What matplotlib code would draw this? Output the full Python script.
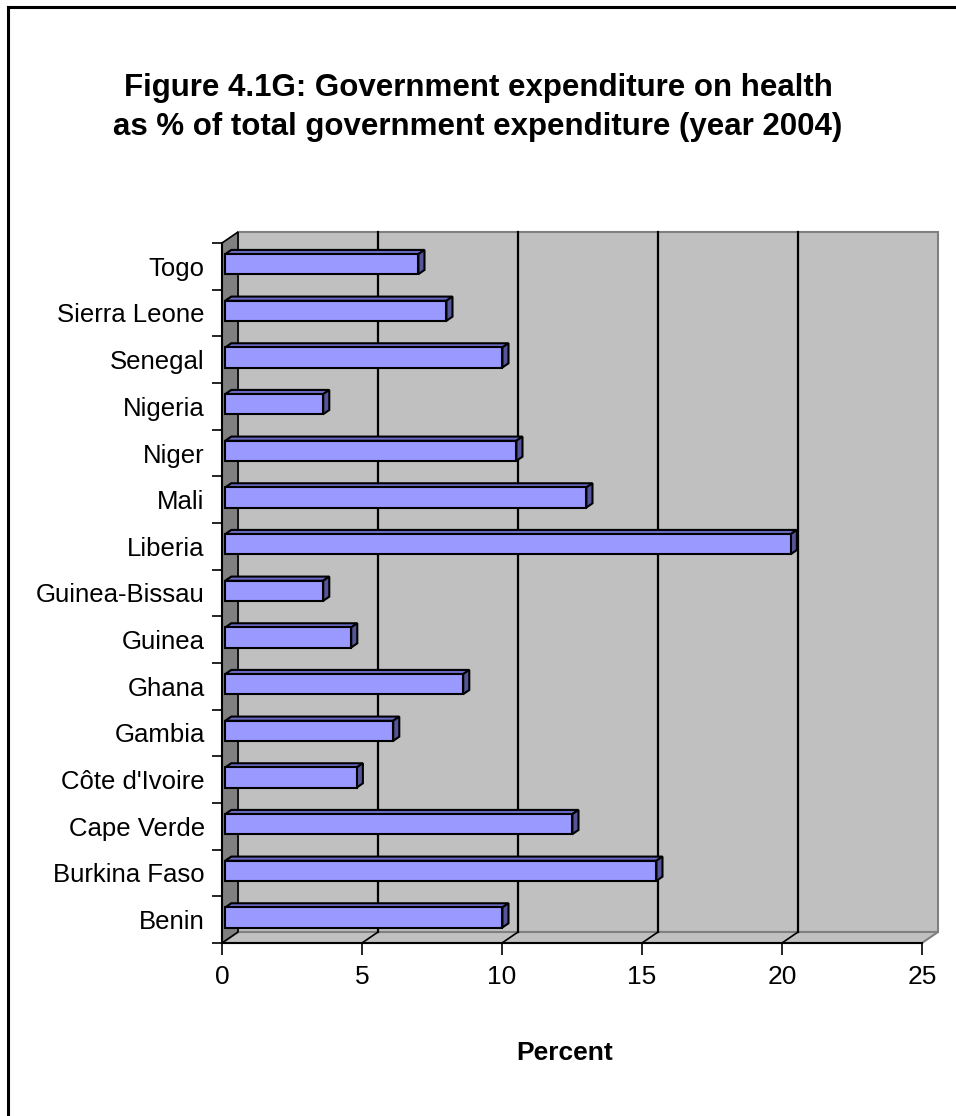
import numpy as np
import matplotlib
matplotlib.use("Agg")
from matplotlib import pyplot as plt
from matplotlib.patches import Polygon
from matplotlib.lines import Line2D

plt.rcParams['font.family'] = ['Liberation Sans', 'DejaVu Sans']

# health spending, % of total government expenditure, 2004 (bottom to top)
countries = ['Benin', 'Burkina Faso', 'Cape Verde', "Côte d'Ivoire", 'Gambia',
             'Ghana', 'Guinea', 'Guinea-Bissau', 'Liberia', 'Mali', 'Niger',
             'Nigeria', 'Senegal', 'Sierra Leone', 'Togo']
values = [9.9, 15.4, 12.4, 4.7, 6.0, 8.5, 4.5, 3.5, 20.2, 12.9, 10.4,
          3.5, 9.9, 7.9, 6.9]
xticks = [0, 5, 10, 15, 20, 25]
title1 = "Figure 4.1G: Government expenditure on health"
title2 = "as % of total government expenditure (year 2004)"

W, H = 956, 1116
fig = plt.figure(figsize=(W/100., H/100.), dpi=100)
fig.patch.set_facecolor('white')

# front plane of the fake 3d box
ax = fig.add_axes([222./W, (H-943.)/H, 700./W, 700./H])
n = len(countries)
xmax = 25
ax.set_xlim(0, xmax)
ax.set_ylim(-0.5, n-0.5)
ax.set_facecolor('none')
for s in ax.spines.values():
    s.set_visible(False)

# depth offsets in data units (approx 16px right, 11px up)
DX = 16./28
DY = 11./(700./n)
y0, y1 = -0.5, n-0.5

# back wall
ax.add_patch(Polygon([(DX, y0+DY), (xmax+DX, y0+DY), (xmax+DX, y1+DY), (DX, y1+DY)],
                     closed=True, fc='#C0C0C0', ec='#808080', lw=1.5,
                     clip_on=False, zorder=1))
# floor
ax.add_patch(Polygon([(0, y0), (xmax, y0), (xmax+DX, y0+DY), (DX, y0+DY)],
                     closed=True, fc='#C0C0C0', ec='#808080', lw=1.5,
                     clip_on=False, zorder=1))
# gridlines on the back wall and floor
for t in xticks[1:-1]:
    ax.plot([t+DX, t+DX], [y0+DY, y1+DY], color='black', lw=1.6,
            clip_on=False, zorder=2)
    ax.plot([t, t+DX], [y0, y0+DY], color='black', lw=1.2,
            clip_on=False, zorder=2)
# left wall
ax.add_patch(Polygon([(0, y0), (DX, y0+DY), (DX, y1+DY), (0, y1)],
                     closed=True, fc='#808080', ec='black', lw=1.2,
                     clip_on=False, zorder=2))
ax.plot([0, xmax], [y0, y0], color='black', lw=1.5, clip_on=False, zorder=2)
ax.plot([0, 0], [y0, y1], color='black', lw=1.5, clip_on=False, zorder=2)

# bars: front, top and side faces
h = 0.43
z0, z1 = 0.2, 0.58
ox0, oy0 = z0*DX, z0*DY
ox1, oy1 = z1*DX, z1*DY
for i, v in enumerate(values):
    lo, hi = i - h/2, i + h/2
    top = [(ox0, hi+oy0), (v+ox0, hi+oy0), (v+ox1, hi+oy1), (ox1, hi+oy1)]
    side = [(v+ox0, lo+oy0), (v+ox1, lo+oy1), (v+ox1, hi+oy1), (v+ox0, hi+oy0)]
    front = [(ox0, lo+oy0), (v+ox0, lo+oy0), (v+ox0, hi+oy0), (ox0, hi+oy0)]
    ax.add_patch(Polygon(top, closed=True, fc='#6B6BC6', ec='black', lw=1.5,
                         joinstyle='miter', zorder=3, clip_on=False))
    ax.add_patch(Polygon(side, closed=True, fc='#55559A', ec='black', lw=1.5,
                         joinstyle='miter', zorder=3, clip_on=False))
    ax.add_patch(Polygon(front, closed=True, fc='#9999FF', ec='black', lw=1.5,
                         joinstyle='miter', zorder=4, clip_on=False))

# category ticks sit between bars, labels on the bar centres
ax.set_yticks(np.arange(-0.5, n, 1.0))
ax.set_yticklabels([])
ax.set_yticks(np.arange(n), minor=True)
ax.set_yticklabels(countries, minor=True, fontsize=18.5)
ax.tick_params(axis='y', which='major', direction='out', length=7.5, width=1.2)
ax.tick_params(axis='y', which='minor', length=0, pad=12.5)

ax.set_xticks(xticks)
ax.set_xticklabels([str(t) for t in xticks], fontsize=19)
ax.tick_params(axis='x', direction='out', length=8.5, width=1.2, pad=7)

ax.text((565.-222)/700, -(1053.-943)/700, 'Percent', transform=ax.transAxes,
        ha='center', va='center', fontsize=19, fontweight='bold')

fig.text(0.5, 1-88./H, title1, ha='center', va='center', fontsize=22.5,
         fontweight='bold')
fig.text(0.5, 1-127./H, title2, ha='center', va='center', fontsize=22.5,
         fontweight='bold')

# chart frame (left and top edges)
fig.add_artist(Line2D([8./W, 8./W], [0, 1-7./H], color='black', lw=2.2,
                      transform=fig.transFigure))
fig.add_artist(Line2D([8./W, 1], [1-7./H, 1-7./H], color='black', lw=2.2,
                      transform=fig.transFigure))

fig.savefig('out.png', dpi=100, facecolor='white')
